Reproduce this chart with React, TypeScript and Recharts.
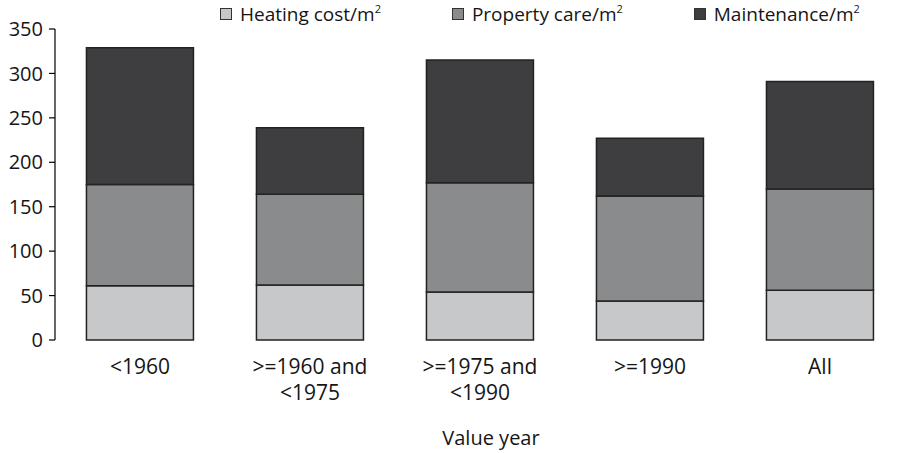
import React from 'react';
import { BarChart, Bar, XAxis, YAxis, Legend, Label } from 'recharts';

const categories = ['<1960', '>=1960 and\n<1975', '>=1975 and\n<1990', '>=1990', 'All'];
const heating = [61, 62, 54, 44, 56];
const propertyCare = [114, 102, 123, 118, 114];
const maintenance = [154, 75, 138, 65, 121];
const seriesNames = ['Heating cost/m²', 'Property care/m²', 'Maintenance/m²'];
const seriesColors = ['#c7c8c9', '#8a8b8c', '#3e3e40'];
const yTicks = [0, 50, 100, 150, 200, 250, 300, 350];
const edgeTicks = [0, 1, 2, 3, 4, 5];

const data = categories.map((c, i) => ({
  cat: c,
  heating: heating[i],
  property: propertyCare[i],
  maintenance: maintenance[i],
}));

const FONT = '"Open Sans", sans-serif';
const TEXT = '#151515';

const CatTick = (props: any) => {
  const { x, y, payload } = props;
  const lines = String(payload.value).split('\n');
  return (
    <text x={x} y={y} textAnchor="middle" fill={TEXT} fontSize={21} fontFamily={FONT}>
      {lines.map((l, i) => (
        <tspan key={i} x={x} dy={i === 0 ? 34 : 26}>
          {l}
        </tspan>
      ))}
    </text>
  );
};

const renderName = (name: string) => {
  const parts = name.split('²');
  return (
    <span>
      {parts[0]}
      {name.includes('²') && (
        <sup style={{ fontSize: 11, lineHeight: 1, verticalAlign: 'top', position: 'relative', top: 1 }}>2</sup>
      )}
    </span>
  );
};

const LegendContent = (props: any) => {
  const payload = [...(props.payload || [])].sort(
    (a: any, b: any) => seriesNames.indexOf(String(a.value)) - seriesNames.indexOf(String(b.value))
  );
  return (
    <div
      style={{
        display: 'flex',
        alignItems: 'center',
        fontFamily: FONT,
        fontSize: 19,
        color: TEXT,
        whiteSpace: 'nowrap',
        lineHeight: '24px',
      }}
    >
      {payload.map((p: any, i: number) => (
        <div key={i} style={{ display: 'flex', alignItems: 'center', marginRight: 71 }}>
          <span
            style={{
              width: 10,
              height: 10,
              background: p.color,
              border: '1px solid #333',
              marginRight: 8,
              display: 'inline-block',
            }}
          />
          {renderName(String(p.value))}
        </div>
      ))}
    </div>
  );
};

export default function App() {
  return (
    <div
      style={{
        position: 'absolute',
        left: 0,
        top: 0,
        width: 910,
        height: 453,
        background: '#fff',
        fontFamily: FONT,
      }}
    >
      <BarChart
        width={910}
        height={453}
        data={data}
        margin={{ top: 29, right: 5, bottom: 0, left: 0 }}
        barCategoryGap="18.5%"
      >
        <XAxis
          xAxisId="edges"
          type="number"
          domain={[0, 5]}
          ticks={edgeTicks}
          tick={false}
          tickSize={6}
          height={0}
          allowDataOverflow
          axisLine={{ stroke: '#000', strokeWidth: 1.2 }}
          tickLine={{ stroke: '#000', strokeWidth: 1.2 }}
        />
        <XAxis
          xAxisId="cat"
          dataKey="cat"
          height={113}
          axisLine={false}
          tickLine={false}
          tickSize={0}
          tickMargin={0}
          interval={0}
          tick={<CatTick />}
        >
          <Label
            value="Value year"
            position="insideBottom"
            offset={8}
            dx={11}
            fill={TEXT}
            fontSize={20}
            fontFamily={FONT}
          />
        </XAxis>
        <YAxis
          width={55}
          domain={[0, 350]}
          ticks={yTicks}
          interval={0}
          tickSize={6}
          tickMargin={6}
          axisLine={{ stroke: '#000', strokeWidth: 1.2 }}
          tickLine={{ stroke: '#000', strokeWidth: 1.2 }}
          tick={{ fill: TEXT, fontSize: 20, fontFamily: FONT }}
        />
        <Legend
          layout="horizontal"
          verticalAlign="middle"
          align="center"
          wrapperStyle={{ top: 2, left: 220, width: 690, height: 26 }}
          content={<LegendContent />}
        />
        <Bar
          xAxisId="cat"
          dataKey="heating"
          name={seriesNames[0]}
          stackId="a"
          fill={seriesColors[0]}
          stroke="#222"
          strokeWidth={1.5}
          isAnimationActive={false}
        />
        <Bar
          xAxisId="cat"
          dataKey="property"
          name={seriesNames[1]}
          stackId="a"
          fill={seriesColors[1]}
          stroke="#222"
          strokeWidth={1.5}
          isAnimationActive={false}
        />
        <Bar
          xAxisId="cat"
          dataKey="maintenance"
          name={seriesNames[2]}
          stackId="a"
          fill={seriesColors[2]}
          stroke="#222"
          strokeWidth={1.5}
          isAnimationActive={false}
        />
      </BarChart>
    </div>
  );
}
